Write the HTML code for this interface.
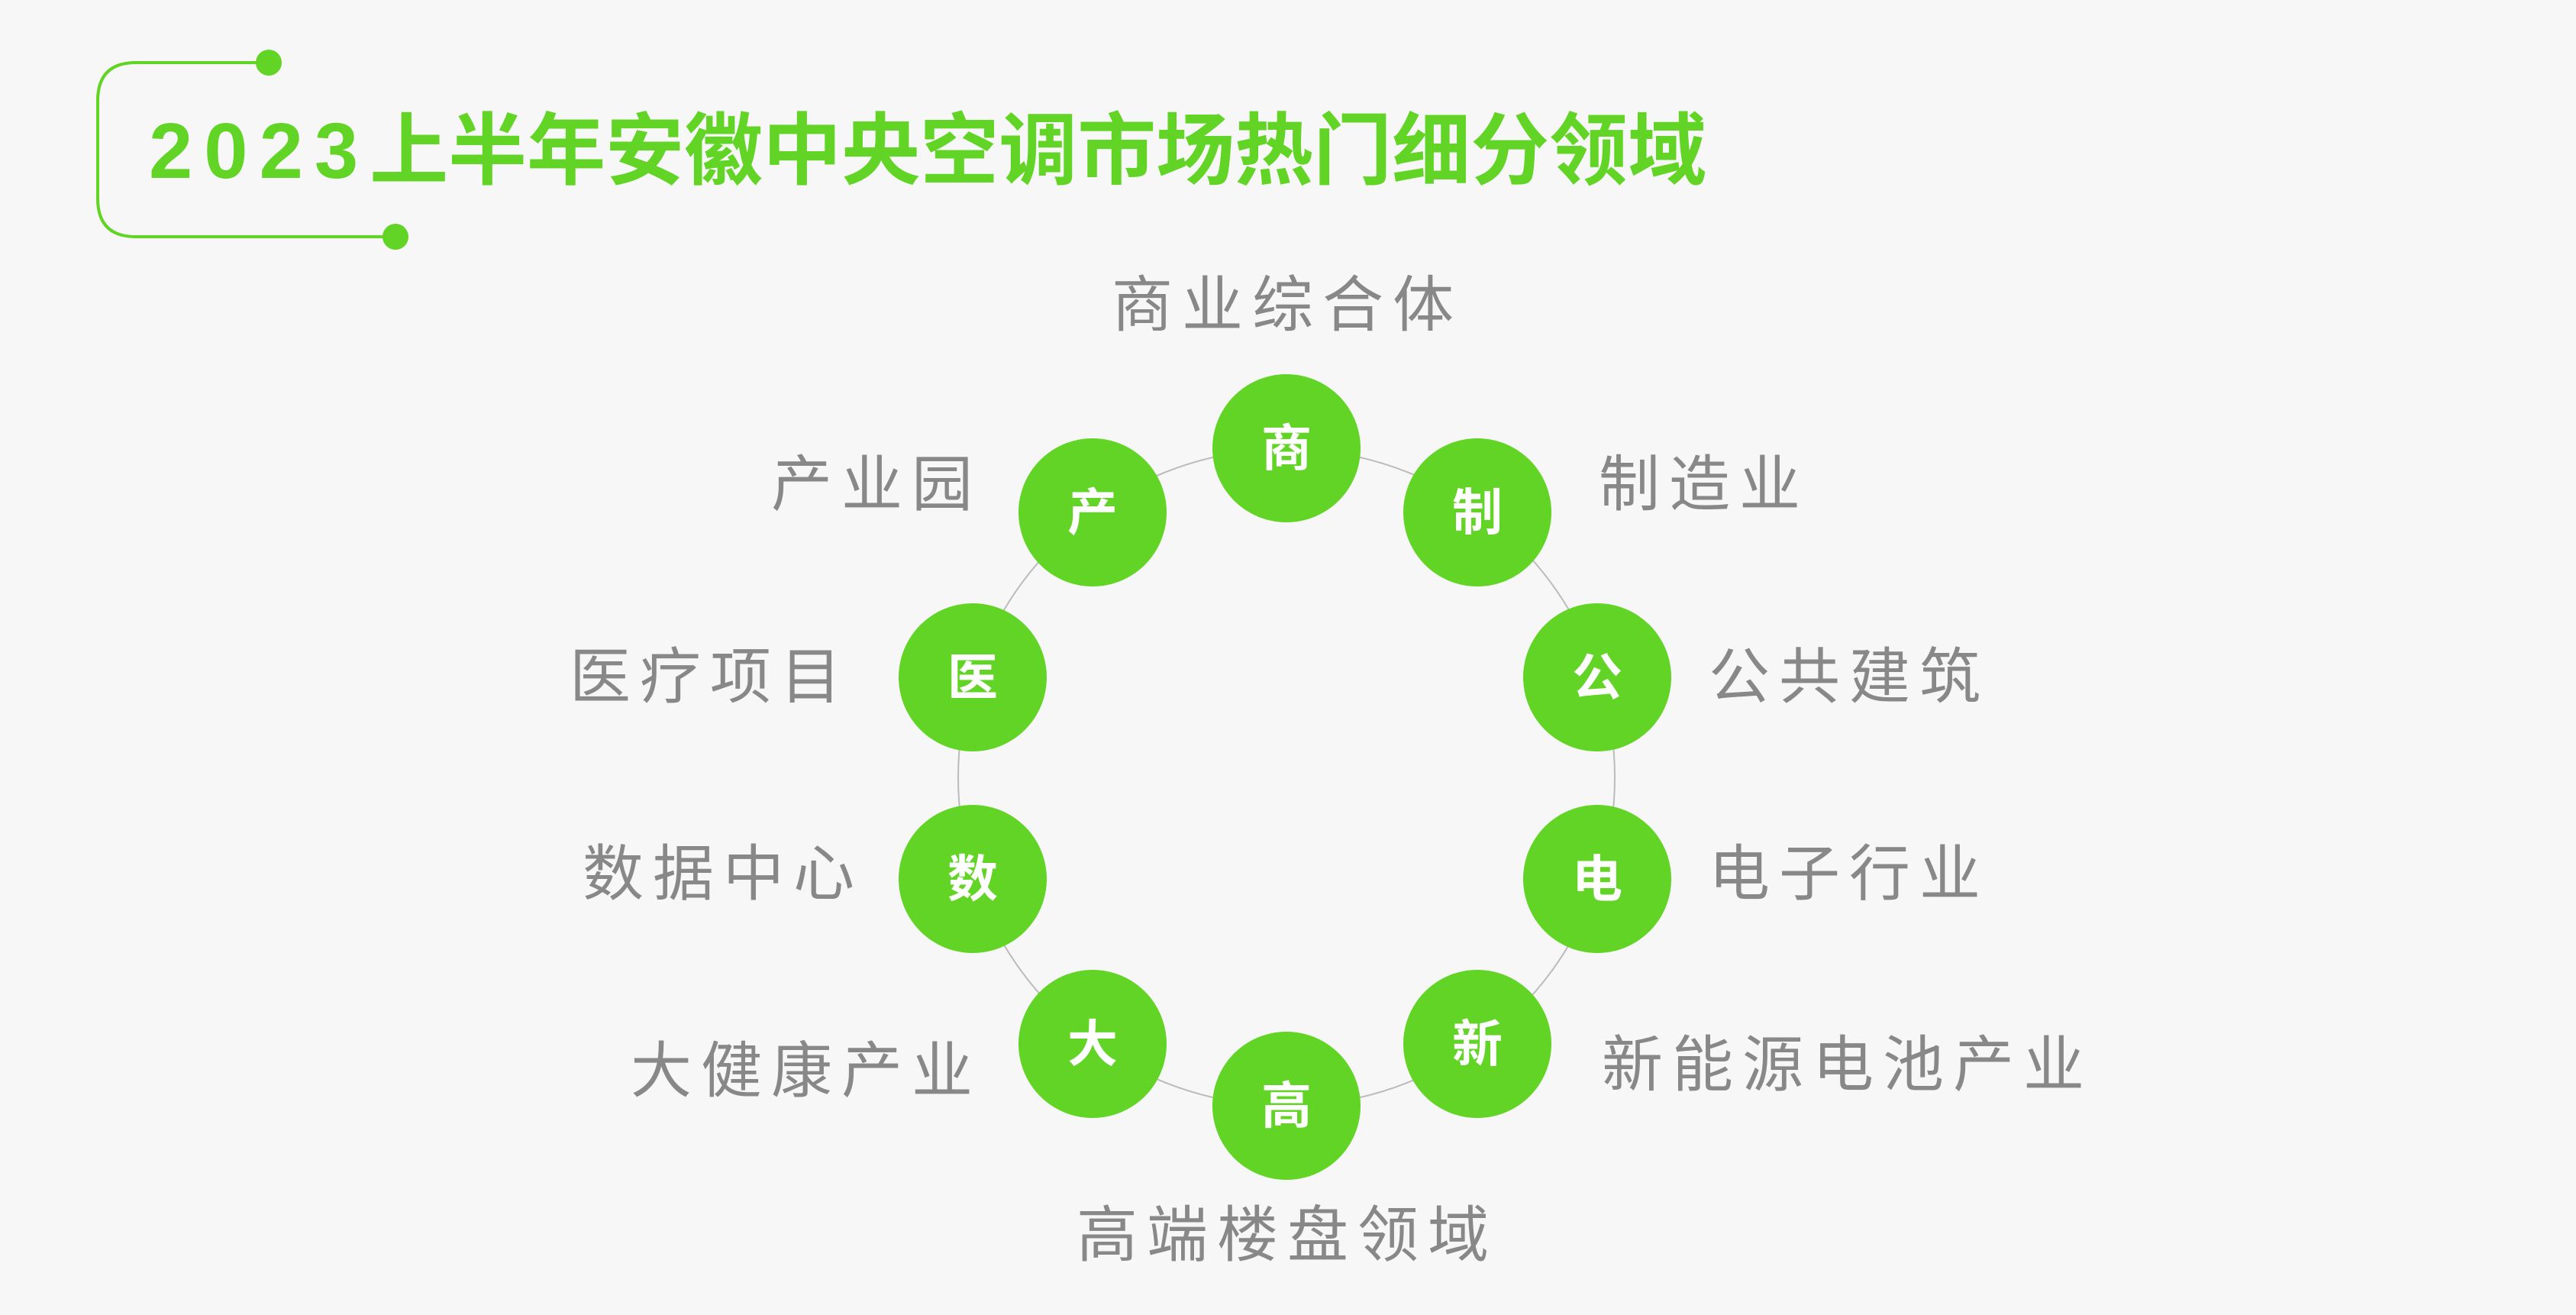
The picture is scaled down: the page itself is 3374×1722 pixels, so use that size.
<!DOCTYPE html>
<html><head><meta charset="utf-8"><style>
html,body{margin:0;padding:0;background:#f7f7f7;}
body{width:3374px;height:1722px;position:relative;overflow:hidden;font-family:"Liberation Sans","Noto Sans CJK SC",sans-serif;}
.t{position:absolute;left:195px;top:138px;font-size:103px;font-weight:bold;color:#62d426;white-space:nowrap;line-height:120px;}
.t span{letter-spacing:15px;}
.l{position:absolute;font-size:80px;color:#888;white-space:nowrap;line-height:90px;letter-spacing:12px;}
.r{text-align:right;}
.n{position:absolute;width:194px;height:194px;border-radius:50%;background:#62d426;color:#fff;font-weight:bold;font-size:66px;line-height:194px;text-align:center;}
</style></head><body>
<svg width="3374" height="1722" style="position:absolute;left:0;top:0">
<path d="M352 82 H178 Q128 82 128 132 V260 Q128 310 178 310 H518" fill="none" stroke="#62d426" stroke-width="4"/>
<circle cx="352" cy="82" r="17" fill="#62d426"/>
<circle cx="518" cy="310" r="17" fill="#62d426"/>
<circle cx="1685" cy="1018" r="430" fill="none" stroke="#bbb" stroke-width="2"/>
</svg>
<div class="t"><span>2023</span>上半年安徽中央空调市场热门细分领域</div>

<div class="n" style="left:1588px;top:490px">商</div>
<div class="n" style="left:1838px;top:574px">制</div>
<div class="n" style="left:1995px;top:790px">公</div>
<div class="n" style="left:1995px;top:1054px">电</div>
<div class="n" style="left:1838px;top:1270px">新</div>
<div class="n" style="left:1588px;top:1351px">高</div>
<div class="n" style="left:1334px;top:1270px">大</div>
<div class="n" style="left:1177px;top:1054px">数</div>
<div class="n" style="left:1177px;top:790px">医</div>
<div class="n" style="left:1334px;top:574px">产</div>

<div class="l" style="left:1436px;top:355px;width:500px;text-align:center">商业综合体</div>
<div class="l r" style="right:2088px;top:590px">产业园</div>
<div class="l" style="left:2094px;top:590px">制造业</div>
<div class="l r" style="right:2260px;top:842px">医疗项目</div>
<div class="l" style="left:2238px;top:842px">公共建筑</div>
<div class="l r" style="right:2243px;top:1100px">数据中心</div>
<div class="l" style="left:2238px;top:1100px">电子行业</div>
<div class="l r" style="right:2088px;top:1358px">大健康产业</div>
<div class="l" style="left:2098px;top:1350px">新能源电池产业</div>
<div class="l" style="left:1336px;top:1573px;width:700px;text-align:center">高端楼盘领域</div>
</body></html>
